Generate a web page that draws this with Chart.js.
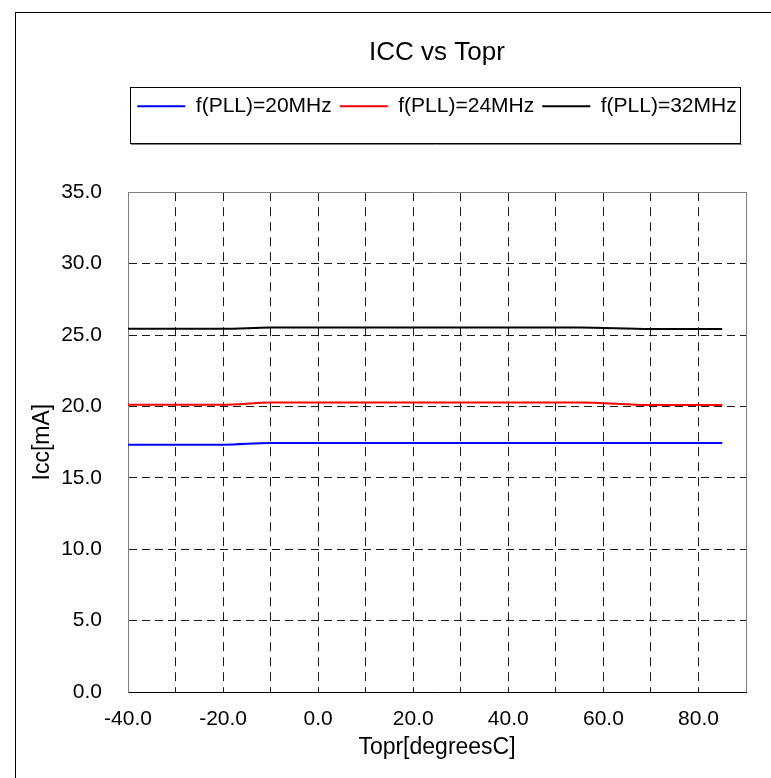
<!DOCTYPE html>
<html>
<head>
<meta charset="utf-8">
<script src="https://cdn.jsdelivr.net/npm/chart.js@4/dist/chart.umd.min.js"></script>
<style>
  html, body { margin: 0; padding: 0; background: #fff; }
  #wrap { width: 771px; height: 778px; }
</style>
</head>
<body>
<div id="wrap"><canvas id="c" width="771" height="778"></canvas></div>
<script>
const temps = [-40, -20, -10, 25, 55, 70, 85];
const icc20 = [17.32, 17.32, 17.44, 17.44, 17.44, 17.44, 17.44];
const icc24 = [20.11, 20.11, 20.27, 20.27, 20.27, 20.10, 20.10];
const icc32 = [25.43, 25.43, 25.53, 25.53, 25.53, 25.42, 25.42];
const seriesNames = ['f(PLL)=20MHz', 'f(PLL)=24MHz', 'f(PLL)=32MHz'];
const seriesColors = ['#0000FF', '#FF0000', '#000000'];
const seriesValues = [icc20, icc24, icc32];
const FONT = 'Liberation Sans, Arial, sans-serif';

const datasets = seriesValues.map((vals, i) => ({
  label: seriesNames[i],
  data: temps.map((t, j) => ({ x: t, y: vals[j] })),
  borderColor: seriesColors[i],
  backgroundColor: seriesColors[i],
  borderWidth: 2,
  pointRadius: 0,
  cubicInterpolationMode: 'monotone',
  fill: false
}));

const framePlugin = {
  id: 'frame',
  beforeDraw(chart) {
    const ctx = chart.ctx;
    ctx.save();
    ctx.fillStyle = '#fff';
    ctx.fillRect(0, 0, chart.width, chart.height);
    ctx.strokeStyle = '#000';
    ctx.lineWidth = 1;
    ctx.strokeRect(15.5, 12.5, 1000, 1000);
    ctx.restore();
  },
  afterDraw(chart) {
    const ctx = chart.ctx;
    const lg = chart.legend;
    if (lg && lg.legendHitBoxes && lg.legendHitBoxes.length) {
      const hb = lg.legendHitBoxes;
      const l = Math.min(...hb.map(h => h.left)) - 7;
      const r = Math.max(...hb.map(h => h.left + h.width)) + 4;
      const t = hb[0].top - 8.5;
      const b = hb[0].top + hb[0].height + 26.5;
      ctx.save();
      ctx.strokeStyle = '#000';
      ctx.lineWidth = 1;
      ctx.strokeRect(Math.round(l) + 0.5, Math.round(t) + 0.5, Math.round(r - l), Math.round(b - t));
      ctx.strokeStyle = '#808080';
      ctx.beginPath();
      ctx.moveTo(Math.round(l) + 1, Math.round(b) + 1.5);
      ctx.lineTo(Math.round(r) + 1, Math.round(b) + 1.5);
      ctx.stroke();
      ctx.restore();
    }
  },
  beforeDatasetsDraw(chart) {
    const a = chart.chartArea;
    const ctx = chart.ctx;
    ctx.save();
    ctx.strokeStyle = '#808080';
    ctx.lineWidth = 1;
    ctx.beginPath();
    ctx.moveTo(Math.round(a.left) + 0.5, Math.round(a.top) + 0.5);
    ctx.lineTo(Math.round(a.right) + 0.5, Math.round(a.top) + 0.5);
    ctx.lineTo(Math.round(a.right) + 0.5, Math.round(a.bottom));
    ctx.stroke();
    ctx.restore();
  }
};

new Chart(document.getElementById('c'), {
  type: 'line',
  data: { datasets },
  plugins: [framePlugin],
  options: {
    responsive: false,
    animation: false,
    layout: { padding: { top: 0, left: 15, right: 25, bottom: 10 } },
    plugins: {
      title: {
        display: true,
        fullSize: false,
        text: 'ICC vs Topr',
        color: '#000',
        font: { family: FONT, size: 26, weight: 'normal' },
        padding: { top: 37, bottom: 19.5 }
      },
      subtitle: {
        display: true,
        fullSize: false,
        text: '',
        weight: 500,
        font: { family: FONT, size: 10 },
        padding: { top: 27, bottom: 26.5 }
      },
      legend: {
        display: true,
        fullSize: false,
        position: 'top',
        labels: {
          color: '#000',
          font: { family: FONT, size: 21 },
          usePointStyle: true,
          pointStyle: 'line',
          pointStyleWidth: 48,
          boxHeight: 21,
          padding: 8
        }
      },
      tooltip: { enabled: false }
    },
    scales: {
      x: {
        type: 'linear',
        min: -40,
        max: 90,
        afterFit(scale) { scale.height = 76; },
        ticks: {
          stepSize: 10,
          color: '#000',
          padding: 15,
          maxRotation: 0,
          autoSkip: false,
          font: { family: FONT, size: 21 },
          callback(v) { return (Math.round(v) % 20 === 0) ? v.toFixed(1) : ''; }
        },
        grid: { color: '#1a1a1a', lineWidth: 1, drawTicks: false },
        border: { color: '#000', width: 1, dash: [9, 6] },
        title: {
          display: true,
          text: 'Topr[degreesC]',
          color: '#000',
          font: { family: FONT, size: 23 },
          padding: { top: 0, bottom: 7 }
        }
      },
      y: {
        type: 'linear',
        min: 0,
        max: 35,
        afterFit(scale) { scale.width = 113; },
        ticks: {
          stepSize: 5,
          color: '#000',
          padding: 26,
          font: { family: FONT, size: 21 },
          callback(v) { return v.toFixed(1); }
        },
        grid: { color: '#1a1a1a', lineWidth: 1, drawTicks: false },
        border: { color: '#808080', width: 1, dash: [8, 5] },
        title: {
          display: true,
          text: 'Icc[mA]',
          color: '#000',
          font: { family: FONT, size: 23 },
          padding: { top: 14, bottom: 0 }
        }
      }
    }
  }
});
</script>
</body>
</html>
